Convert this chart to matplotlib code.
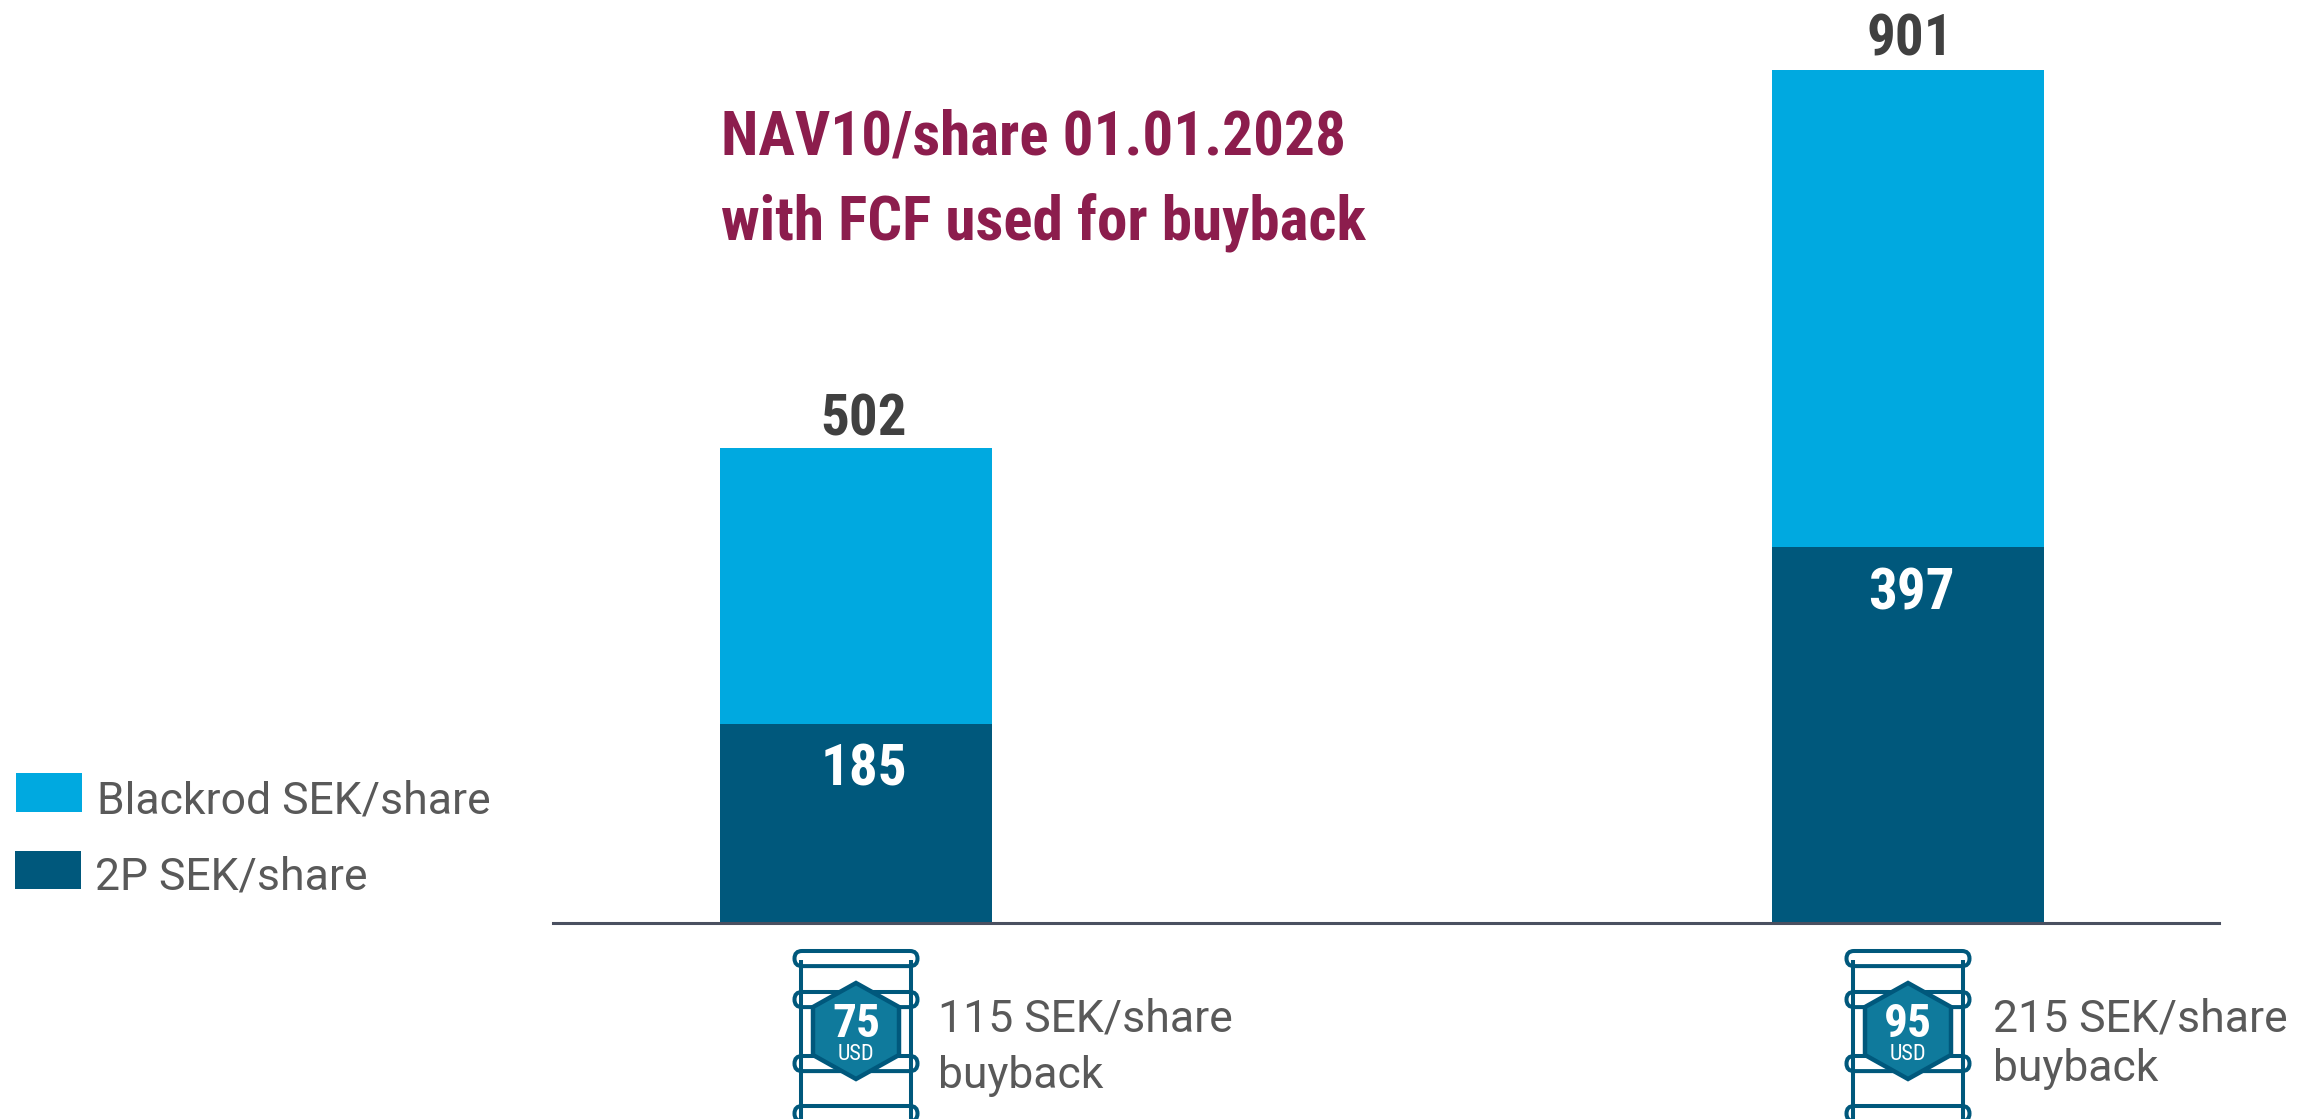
import matplotlib
matplotlib.use('Agg')
import matplotlib.pyplot as plt
from matplotlib.patches import FancyBboxPatch, Polygon, Rectangle

price_labels = ['75', '95']
buyback_first = ['115 SEK/share', '215 SEK/share']
buyback_second = ['buyback', 'buyback']
two_p = [210, 397]
blackrod = [292, 504]
two_p_labels = ['185', '397']
total_labels = ['502', '901']
legend_labels = ['Blackrod SEK/share', '2P SEK/share']
title_lines = ['NAV10/share 01.01.2028', 'with FCF used for buyback']

COL_DARK = '#00587c'
COL_LIGHT = '#00a9e0'
COL_HEX = '#0f7a9c'
COL_TEXT = '#595959'
COL_LABEL = '#404040'
COL_TITLE = '#8c1d4d'
COL_AXIS = '#4a5060'
COND = ['Roboto Condensed', 'Roboto', 'DejaVu Sans']
BODY = ['Roboto', 'DejaVu Sans']

W, H = 2302, 1119
fig = plt.figure(figsize=(W / 100, H / 100), dpi=100)

# main axes, baseline at y=923 px
ax = fig.add_axes([553 / W, (H - 923) / H, 1666 / W, 923 / H])
x = [0, 1]
ax.bar(x, two_p, width=0.2586, color=COL_DARK)
ax.bar(x, blackrod, width=0.2586, bottom=two_p, color=COL_LIGHT)
ax.set_xlim(-0.2880, 1.2956)
ax.set_ylim(0, 975)
ax.set_xticks([])
ax.set_yticks([])
for s in ['top', 'left', 'right']:
    ax.spines[s].set_visible(False)
ax.spines['bottom'].set_color(COL_AXIS)
ax.spines['bottom'].set_linewidth(2.2)

# overlay in pixel coordinates for icons, legend, text
ov = fig.add_axes([0, 0, 1, 1])
ov.set_xlim(0, W)
ov.set_ylim(H, 0)
ov.axis('off')
ov.patch.set_alpha(0)


def draw_barrel(cx, price):
    for side in [-55, 55]:
        ov.plot([cx + side, cx + side], [960, 1119], color=COL_DARK, lw=2.9, solid_capstyle='butt')
    for y0 in [949, 990, 1054, 1104]:
        ov.add_patch(FancyBboxPatch((cx - 54, y0 + 9.5), 108, 0.1,
                                    boxstyle='round,pad=7.5,rounding_size=7.5',
                                    fc='white', ec=COL_DARK, lw=2.9))
    hexagon = [(cx, 983), (cx + 43, 1007), (cx + 43, 1055), (cx, 1079), (cx - 43, 1055), (cx - 43, 1007)]
    ov.add_patch(Polygon(hexagon, closed=True, fc=COL_HEX, ec=COL_DARK, lw=3.2, joinstyle='miter'))
    ov.text(cx, 1037, price, color='white', fontsize=34, fontweight='bold', family=COND, ha='center', va='baseline')
    ov.text(cx, 1060, 'USD', color='white', fontsize=16, family=COND, ha='center', va='baseline')


barrel_x = [856, 1908]
for i in range(len(price_labels)):
    draw_barrel(barrel_x[i], price_labels[i])

text_x = [938, 1993]
second_y = [1088, 1081]
for i in range(len(buyback_first)):
    ov.text(text_x[i], 1031, buyback_first[i], color=COL_TEXT, fontsize=32, family=BODY, va='baseline')
    ov.text(text_x[i], second_y[i], buyback_second[i], color=COL_TEXT, fontsize=32, family=BODY, va='baseline')

# legend
ov.add_patch(Rectangle((16, 773), 66, 39, fc=COL_LIGHT, ec='none'))
ov.add_patch(Rectangle((15, 851), 66, 38, fc=COL_DARK, ec='none'))
ov.text(97, 813, legend_labels[0], color=COL_TEXT, fontsize=32, family=BODY, va='baseline')
ov.text(95, 890, legend_labels[1], color=COL_TEXT, fontsize=32, family=BODY, va='baseline')

# title
ov.text(721, 155, title_lines[0], color=COL_TITLE, fontsize=44, fontweight='bold', family=COND, va='baseline')
ov.text(721, 240, title_lines[1], color=COL_TITLE, fontsize=44, fontweight='bold', family=COND, va='baseline')

# value labels
ov.text(863.5, 436, total_labels[0], color=COL_LABEL, fontsize=41, fontweight='bold', family=COND, ha='center', va='baseline')
ov.text(1910, 56, total_labels[1], color=COL_LABEL, fontsize=41, fontweight='bold', family=COND, ha='center', va='baseline')
ov.text(863.5, 785, two_p_labels[0], color='white', fontsize=41, fontweight='bold', family=COND, ha='center', va='baseline')
ov.text(1911, 610, two_p_labels[1], color='white', fontsize=41, fontweight='bold', family=COND, ha='center', va='baseline')

fig.savefig('out.png', dpi=100)
